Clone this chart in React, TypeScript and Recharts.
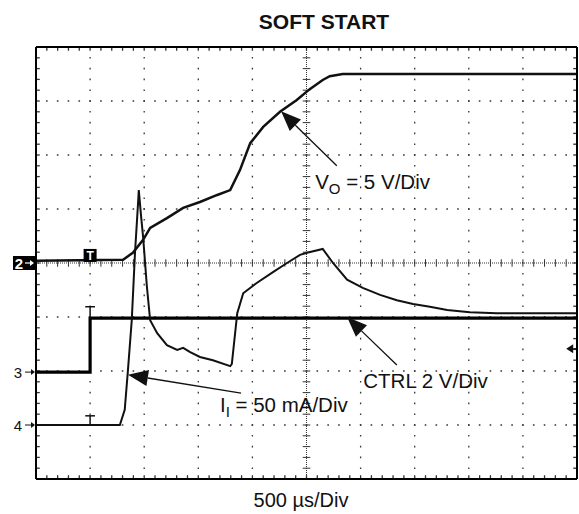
import React from 'react'
import { LineChart, Line, XAxis, YAxis, ReferenceLine, ReferenceDot } from 'recharts'

// scope screen: 10 x 8 divisions, traces read in divisions from centre
const xGrid = [1, 2, 3, 4, 6, 7, 8, 9]
const yGrid = [-3, -2, -1, 1, 2, 3]
const xMinor = Array.from({ length: 49 }, (_, i) => (i + 1) / 5)
const yMinor = Array.from({ length: 39 }, (_, i) => -4 + (i + 1) / 5)

// ch2: output voltage
const voutTime = [0, 1.61, 1.79, 1.98, 2.11, 2.42, 2.72, 3.03, 3.35, 3.59, 3.77, 3.96, 4.2, 4.51, 4.82, 5.06, 5.3, 5.43, 5.67, 10]
const voutLevel = [0.04, 0.06, 0.19, 0.43, 0.65, 0.83, 1.02, 1.13, 1.26, 1.35, 1.72, 2.22, 2.52, 2.8, 3.02, 3.22, 3.39, 3.46, 3.5, 3.5]

// ch4: input current
const iinTime = [0, 1.55, 1.64, 1.7, 1.77, 1.83, 1.89, 1.9, 1.94, 1.98, 2.05, 2.11, 2.24, 2.42, 2.61, 2.72, 2.85, 3.03, 3.27, 3.59, 3.62, 3.72, 3.83, 4.08, 4.38, 4.64, 4.88, 5.01, 5.3, 5.49, 5.75, 6.04, 6.36, 6.67, 6.97, 7.28, 7.6, 8.02, 8.52, 9.13, 10]
const iinLevel = [-3, -3, -2.72, -1.98, -1.06, 0.19, 1.17, 1.35, 0.89, 0.48, -0.44, -1.06, -1.3, -1.52, -1.61, -1.57, -1.65, -1.74, -1.8, -1.91, -1.87, -0.93, -0.56, -0.37, -0.17, 0, 0.15, 0.19, 0.26, 0, -0.31, -0.46, -0.59, -0.69, -0.76, -0.81, -0.87, -0.91, -0.93, -0.93, -0.93]

// ch3: CTRL step
const ctrlTime = [0, 1, 1, 10]
const ctrlLevel = [-2.02, -2.02, -1.02, -1.02]

const markerLabels = ['2', '3', '4']
const markerLevels = [0, -2.02, -3]

const FONT = '"Liberation Sans", Arial, Helvetica, sans-serif'
const INK = '#111'
const gridStroke = '#333'

const zip = (ts: number[], vs: number[]) => ts.map((t, i) => ({ t, v: vs[i] }))
const vout = zip(voutTime, voutLevel)
const iin = zip(iinTime, iinLevel)
const ctrl = zip(ctrlTime, ctrlLevel)

function arrowShape(headLen: number, headW: number, width: number) {
  return (props: any) => {
    const { x1, y1, x2, y2 } = props
    const dx = x2 - x1
    const dy = y2 - y1
    const len = Math.hypot(dx, dy) || 1
    const ux = dx / len
    const uy = dy / len
    const bx = x2 - ux * headLen
    const by = y2 - uy * headLen
    const px = -uy * headW
    const py = ux * headW
    return (
      <g>
        <line x1={x1} y1={y1} x2={bx} y2={by} stroke={INK} strokeWidth={width} />
        <polygon points={`${x2},${y2} ${bx + px},${by + py} ${bx - px},${by - py}`} fill={INK} />
      </g>
    )
  }
}

function ChannelMark({ cx, cy, label, boxed }: any) {
  if (boxed) {
    return (
      <g>
        <rect x={cx - 23} y={cy - 7} width={22} height={14} fill="#000" />
        <text x={cx - 17} y={cy + 5.5} fill="#fff" fontSize={15} fontWeight="bold" fontFamily={FONT} textAnchor="middle">
          {label}
        </text>
        <line x1={cx - 11} y1={cy} x2={cx - 5} y2={cy} stroke="#fff" strokeWidth={1.2} />
        <polygon points={`${cx - 2},${cy} ${cx - 6},${cy - 3} ${cx - 6},${cy + 3}`} fill="#fff" />
      </g>
    )
  }
  return (
    <g>
      <text x={cx - 18} y={cy + 5.5} fill={INK} fontSize={15} fontFamily={FONT} textAnchor="middle">
        {label}
      </text>
      <line x1={cx - 11} y1={cy} x2={cx - 4} y2={cy} stroke={INK} strokeWidth={1} />
      <polygon points={`${cx - 1},${cy} ${cx - 5},${cy - 3} ${cx - 5},${cy + 3}`} fill={INK} />
    </g>
  )
}

function TriggerMark({ cx, cy }: any) {
  return (
    <g>
      <rect x={cx - 6.5} y={cy - 6.5} width={13} height={13} fill="#000" />
      <text x={cx} y={cy + 5} fill="#fff" fontSize={12} fontWeight="bold" fontFamily={FONT} textAnchor="middle">
        T
      </text>
    </g>
  )
}

function Note({ cx, cy, main, sub, rest }: any) {
  return (
    <text x={cx} y={cy} fill={INK} fontSize={20.5} fontFamily={FONT}>
      {main}
      {sub ? (
        <tspan fontSize={15} dy={5}>
          {sub}
        </tspan>
      ) : null}
      <tspan dy={sub ? -5 : 0}>{rest}</tspan>
    </text>
  )
}

const frameAxis = {
  type: 'number' as const,
  tick: false,
  tickLine: false,
  axisLine: { stroke: '#000', strokeWidth: 2 },
}

export default function App() {
  return (
    <div style={{ position: 'absolute', left: 0, top: 0, width: 579, height: 514, background: '#fff' }}>
      <LineChart width={579} height={514} data={vout} margin={{ top: 46, right: 1, bottom: 34, left: 35 }}>
        <XAxis dataKey="t" domain={[0, 10]} allowDataOverflow height={1} {...frameAxis} />
        <XAxis xAxisId="top" orientation="top" dataKey="t" domain={[0, 10]} height={1} {...frameAxis} />
        <YAxis domain={[-4, 4]} allowDataOverflow width={1} {...frameAxis} />
        <YAxis yAxisId="right" orientation="right" domain={[-4, 4]} width={1} {...frameAxis} />

        {/* dotted division grid */}
        {xGrid.map((x) => (
          <ReferenceLine key={'gx' + x} x={x} stroke={gridStroke} strokeWidth={1.3} strokeDasharray="1.6 9.2" strokeDashoffset={0.8} />
        ))}
        {yGrid.map((y) => (
          <ReferenceLine key={'gy' + y} y={y} stroke={gridStroke} strokeWidth={1.3} strokeDasharray="1.6 9.22" strokeDashoffset={0.8} />
        ))}
        {/* centre graticule with minor ticks */}
        <ReferenceLine x={5} stroke={gridStroke} strokeWidth={1} strokeDasharray="1 1" />
        <ReferenceLine y={0} stroke={gridStroke} strokeWidth={1} strokeDasharray="1 1" />
        {xMinor.map((x) => (
          <ReferenceLine key={'cx' + x} segment={[{ x, y: -0.07 }, { x, y: 0.07 }]} stroke={gridStroke} strokeWidth={1} />
        ))}
        {yMinor.map((y) => (
          <ReferenceLine key={'cy' + y} segment={[{ x: 4.93, y }, { x: 5.07, y }]} stroke={gridStroke} strokeWidth={1} />
        ))}
        {/* minor ticks inside the frame */}
        {xMinor.map((x) => (
          <ReferenceLine key={'tt' + x} segment={[{ x, y: 4 }, { x, y: 3.93 }]} stroke={gridStroke} strokeWidth={1.3} />
        ))}
        {xMinor.map((x) => (
          <ReferenceLine key={'tb' + x} segment={[{ x, y: -4 }, { x, y: -3.93 }]} stroke={gridStroke} strokeWidth={1.3} />
        ))}
        {yMinor.map((y) => (
          <ReferenceLine key={'tl' + y} segment={[{ x: 0, y }, { x: 0.07, y }]} stroke={gridStroke} strokeWidth={1.3} />
        ))}
        {yMinor.map((y) => (
          <ReferenceLine key={'tr' + y} segment={[{ x: 10, y }, { x: 9.93, y }]} stroke={gridStroke} strokeWidth={1.3} />
        ))}

        <Line data={ctrl} dataKey="v" type="linear" stroke="#000" strokeWidth={3.2} dot={false} isAnimationActive={false} />
        <Line data={iin} dataKey="v" type="linear" stroke={INK} strokeWidth={2} dot={false} isAnimationActive={false} />
        <Line data={vout} dataKey="v" type="linear" stroke={INK} strokeWidth={2.5} dot={false} isAnimationActive={false} />

        {/* position marks on CTRL and I_I */}
        <ReferenceLine segment={[{ x: 1, y: -1.02 }, { x: 1, y: -0.81 }]} stroke={INK} strokeWidth={1.5} />
        <ReferenceLine segment={[{ x: 0.91, y: -0.81 }, { x: 1.09, y: -0.81 }]} stroke={INK} strokeWidth={1.5} />
        <ReferenceLine segment={[{ x: 1, y: -3 }, { x: 1, y: -2.83 }]} stroke={INK} strokeWidth={1.5} />
        <ReferenceLine segment={[{ x: 0.91, y: -2.83 }, { x: 1.09, y: -2.83 }]} stroke={INK} strokeWidth={1.5} />
        <ReferenceDot x={1} y={0.14} r={1} shape={(p: any) => <TriggerMark {...p} />} />

        {/* channel ground markers */}
        {markerLabels.map((lab, i) => (
          <ReferenceDot
            key={'m' + lab}
            x={0}
            y={markerLevels[i]}
            r={1}
            shape={(p: any) => <ChannelMark {...p} label={lab} boxed={i === 0} />}
          />
        ))}
        {/* trigger level arrow */}
        <ReferenceLine segment={[{ x: 10, y: -1.59 }, { x: 9.8, y: -1.59 }]} shape={arrowShape(7, 4.5, 1.5)} />

        {/* annotations */}
        <ReferenceLine segment={[{ x: 5.56, y: 1.8 }, { x: 4.53, y: 2.81 }]} shape={arrowShape(20, 8, 1.3)} />
        <ReferenceLine segment={[{ x: 6.67, y: -1.89 }, { x: 5.75, y: -1.0 }]} shape={arrowShape(20, 8, 1.3)} />
        <ReferenceLine segment={[{ x: 3.79, y: -2.41 }, { x: 1.7, y: -2.07 }]} shape={arrowShape(20, 8, 1.3)} />
        <ReferenceDot x={5.16} y={1.37} r={1} shape={(p: any) => <Note {...p} main="V" sub="O" rest=" = 5 V/Div" />} />
        <ReferenceDot x={6.05} y={-2.32} r={1} shape={(p: any) => <Note {...p} main="CTRL 2 V/Div" />} />
        <ReferenceDot x={3.4} y={-2.75} r={1} shape={(p: any) => <Note {...p} main="I" sub="I" rest=" = 50 mA/Div" />} />
      </LineChart>
      <svg width={579} height={514} style={{ position: 'absolute', left: 0, top: 0, pointerEvents: 'none' }}>
        <text x={324} y={29} textAnchor="middle" fontSize={21} fontWeight="bold" fontFamily={FONT} fill={INK}>
          SOFT START
        </text>
        <text x={301} y={507} textAnchor="middle" fontSize={20} fontFamily={FONT} fill={INK}>
          500 µs/Div
        </text>
      </svg>
    </div>
  )
}
